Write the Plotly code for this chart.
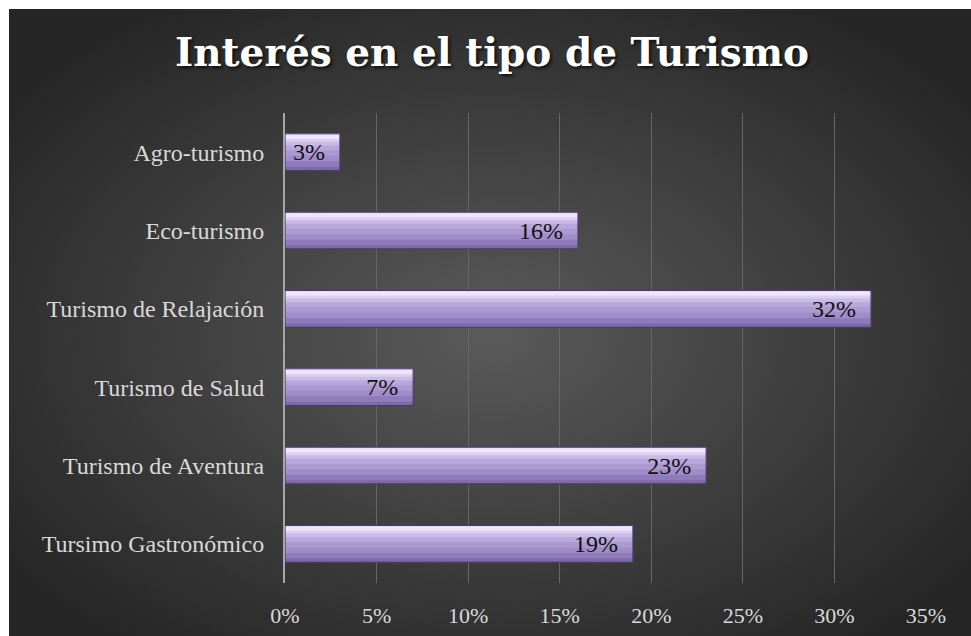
import base64
import plotly.graph_objects as go

# ---- data ----
categories = ["Tursimo Gastronómico", "Turismo de Aventura", "Turismo de Salud",
              "Turismo de Relajación", "Eco-turismo", "Agro-turismo"]
values = [0.19, 0.23, 0.07, 0.32, 0.16, 0.03]
value_labels = ["19%", "23%", "7%", "32%", "16%", "3%"]
tick_vals = [0, 0.05, 0.10, 0.15, 0.20, 0.25, 0.30, 0.35]
tick_text = ["0%", "5%", "10%", "15%", "20%", "25%", "30%", "35%"]
title_text = "Interés en el tipo de Turismo"

# ---- background radial gradient (svg image) ----
svg = """<svg xmlns='http://www.w3.org/2000/svg' width='962' height='627' viewBox='0 0 962 627' preserveAspectRatio='none'>
<defs><radialGradient id='g' cx='50%' cy='52%' r='62%'>
<stop offset='0%' stop-color='#5a5a5a'/>
<stop offset='100%' stop-color='#262626'/>
</radialGradient></defs>
<rect width='962' height='627' fill='url(#g)'/></svg>"""
bg_uri = "data:image/svg+xml;base64," + base64.b64encode(svg.encode()).decode()

W = 0.47
# vertical gradient bands of the bar (fraction from bottom, fraction to top, colour)
bands = [
    (0.00, 1.00, "#7f69aa"),
    (0.10, 1.00, "#8f7bba"),
    (0.25, 1.00, "#9f8cc8"),
    (0.40, 1.00, "#ab99d2"),
    (0.55, 1.00, "#b8a7db"),
    (0.68, 1.00, "#c9bbe6"),
    (0.78, 1.00, "#dcd0f1"),
    (0.86, 0.97, "#eee6fa"),
]

fig = go.Figure()
for lo, hi, col in bands:
    fig.add_trace(go.Bar(y=categories, x=values, orientation="h",
                         width=W * (hi - lo), offset=-W / 2 + W * lo,
                         marker=dict(color=col, line=dict(width=0)), hoverinfo="skip"))
# outline + labels
fig.add_trace(go.Bar(y=categories, x=values, orientation="h", width=W, offset=-W / 2,
                     marker=dict(color="rgba(0,0,0,0)", line=dict(color="#4a3b68", width=1.2)),
                     text=value_labels, texttemplate="%{text}\u00a0\u00a0",
                     textposition="inside", insidetextanchor="end",
                     textfont=dict(family="Liberation Serif", size=24, color="#111111"),
                     constraintext="none", cliponaxis=False))

fig.update_layout(
    template="none",
    width=971, height=636,
    margin=dict(l=9, r=0, t=9, b=0, autoexpand=False),
    paper_bgcolor="white",
    plot_bgcolor="rgba(0,0,0,0)",
    barmode="overlay",
    showlegend=False,
    images=[dict(source=bg_uri, xref="paper", yref="paper", x=0, y=1, sizex=1, sizey=1,
                 xanchor="left", yanchor="top", sizing="stretch", layer="below")],
    title=dict(text="<b>" + title_text + "</b>", x=492 / 971, xanchor="center",
               y=1 - 52 / 636, yanchor="middle", yref="container",
               font=dict(family="DejaVu Serif", size=39, color="white",
                         shadow="2px 2px 3px rgba(0,0,0,0.7)")),
    xaxis=dict(domain=[(285 - 9) / 962, (926 - 9) / 962], range=[0, 0.35],
               tickvals=tick_vals, ticktext=tick_text, showgrid=True, automargin=False,
               gridcolor="#666666", gridwidth=1, zeroline=False, showline=False,
               ticks="", ticklabelstandoff=17,
               tickfont=dict(family="Liberation Serif", size=22, color="#d9d9d9")),
    yaxis=dict(domain=[(636 - 583) / 627, (636 - 113) / 627], showgrid=False, automargin=False,
               showline=True, linecolor="#a6a6a6", linewidth=2, zeroline=False,
               ticks="", ticklabelstandoff=14,
               tickfont=dict(family="Liberation Serif", size=24, color="#d9d9d9")),
)

fig.write_html("out.html", config={"responsive": False, "displayModeBar": False},
               post_script="document.body.style.margin='0';document.body.style.overflow='hidden';")
